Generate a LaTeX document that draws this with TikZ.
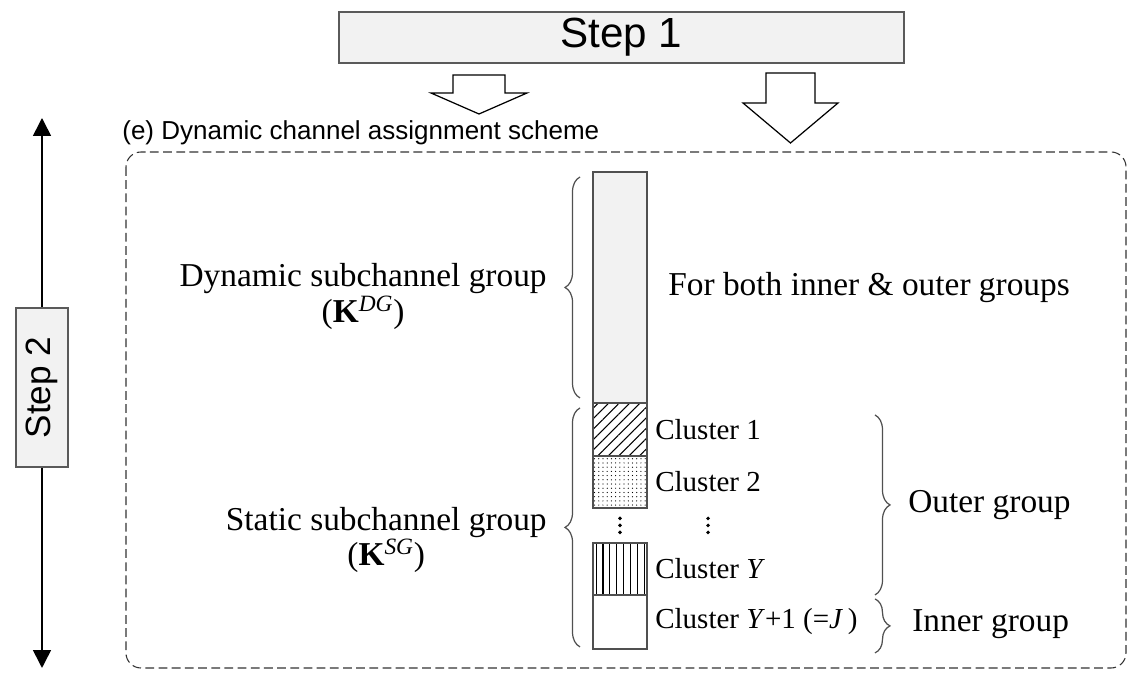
\documentclass[tikz,border=0pt]{standalone}
\usepackage{fontspec}
\setmainfont{Liberation Serif}
\newfontfamily\arialfont{Liberation Sans}
\usetikzlibrary{positioning, calc, patterns.meta, arrows.meta, decorations.pathreplacing}
\definecolor{stepfill}{RGB}{242, 242, 242}
\definecolor{stepline}{RGB}{90, 90, 90}
\definecolor{barline}{RGB}{80, 80, 80}
\definecolor{framegray}{RGB}{50, 50, 50}

\begin{document}
\begin{tikzpicture}[x=0.02cm, y=-0.02cm,
    stepbox/.style={fill=stepfill, draw=stepline, line width=0.9pt, inner sep=0pt},
    seg/.style={draw=barline, line width=0.8pt, minimum width=1.08cm, inner sep=0pt, outer sep=0pt, anchor=north},
    clabel/.style={font=\fontsize{16.5}{19}\selectfont, inner sep=0pt, anchor=west},
    glabel/.style={font=\fontsize{19}{19}\selectfont, inner sep=0pt, align=center},
    gbrace/.style={decorate, decoration={brace, amplitude=0.3cm}, draw=barline, line width=0.7pt},
    blockarrow/.style={draw=black, line width=0.7pt, fill=white},
    vdot/.style={circle, fill=black, inner sep=0pt, minimum size=2.2pt}]
    \useasboundingbox (0,0) rectangle (1134,678);

    % Steps
    \node[stepbox, minimum width=11.3cm, minimum height=1.02cm,
          font=\arialfont\fontsize{24}{28}\selectfont] (step1) at (621.5,37.5) {Step 1};
    \node[stepbox, rotate=90, minimum width=3.18cm, minimum height=1.04cm,
          font=\arialfont\fontsize{20}{24}\selectfont] (step2) at (42,387.5) {Step 2};
    \coordinate (s2top) at (42,118);
    \coordinate (s2bot) at (42,668);
    \draw[-{Triangle[width=0.36cm, length=0.36cm]}, line width=0.9pt] (step2.east) -- (s2top);
    \draw[-{Triangle[width=0.36cm, length=0.36cm]}, line width=0.9pt] (step2.west) -- (s2bot);

    % Block arrows
    \draw[blockarrow] (453,75) -- (505,75) -- (505,93) -- (527,93) -- (479,114) -- (431,93) -- (453,93) -- cycle;
    \draw[blockarrow] (766,73) -- (815,73) -- (815,103) -- (838,103) -- (790.5,143) -- (743,103) -- (766,103) -- cycle;

    % Frame
    \node[anchor=west, inner sep=0pt, font=\arialfont\fontsize{14.8}{17}\selectfont] (scheme) at (122,133) {(e) Dynamic channel assignment scheme};
    \draw[framegray, line width=0.6pt, dash pattern=on 5pt off 2.5pt, rounded corners=0.3cm] (126,152) rectangle (1126,668);

    % Subchannel bar
    \node[seg, fill=stepfill, minimum height=4.62cm] (dyn) at (620,172) {};
    \node[seg, pattern={Lines[angle=45, distance=4.2pt, line width=0.6pt]}, minimum height=1.06cm, below=0pt of dyn] (c1) {};
    \node[seg, pattern={Dots[distance=2.4pt, radius=0.35pt]}, minimum height=1.04cm, below=0pt of c1] (c2) {};
    \node[seg, pattern={Lines[angle=90, distance=3.9pt, line width=0.6pt]}, minimum height=1.04cm, below=0.7cm of c2] (cY) {};
    \node[seg, fill=white, minimum height=1.08cm, below=0pt of cY] (cY1) {};

    % Cluster labels
    \node[clabel, right=0.16cm of c1] (c1lbl) {Cluster 1};
    \node[clabel, right=0.16cm of c2] (c2lbl) {Cluster 2};
    \node[clabel, right=0.16cm of cY] (cYlbl) {Cluster \textit{Y}};
    \node[clabel, right=0.16cm of cY1] (cY1lbl) {Cluster \textit{Y}+1 (=\textit{J}\,)};
    \coordinate (vdotsa) at ($(c2.south)!0.5!(cY.north)$);
    \coordinate (vdotsb) at (vdotsa -| c2lbl);
    \foreach \p in {vdotsa, vdotsb} {
        \node[vdot] at ([yshift=0.14cm]\p) {};
        \node[vdot] at (\p) {};
        \node[vdot] at ([yshift=-0.14cm]\p) {};
    }
    \node[glabel, right=0.42cm of dyn] (bothlbl) {For both inner \& outer groups};

    % Left braces
    \draw[gbrace] ([xshift=-0.26cm, yshift=0.1cm]dyn.south west) -- ([xshift=-0.26cm, yshift=-0.1cm]dyn.north west);
    \draw[gbrace] ([xshift=-0.26cm, yshift=0.04cm]cY1.south west) -- ([xshift=-0.26cm, yshift=-0.1cm]c1.north west);
    \coordinate (dyntip) at ([xshift=-0.56cm]dyn.west);
    \coordinate (statip) at ($(c1.north west)!0.5!(cY1.south west)+(-28,0)$);
    \node[glabel, anchor=east] (dynlbl) at ($(dyntip)+(-18,9)$) {Dynamic subchannel group\\(\textbf{K}\textsuperscript{\textit{DG}})};
    \node[glabel, anchor=east] (stalbl) at ($(statip)+(-18,14)$) {Static subchannel group\\(\textbf{K}\textsuperscript{\textit{SG}})};

    % Right braces
    \draw[gbrace] ($(c1.north east)+(228,12)$) -- ($(cY.south east)+(228,0)$);
    \draw[gbrace] ($(cY1.north east)+(228,4)$) -- ($(cY1.south east)+(228,4)$);
    \node[glabel, anchor=west] (outerlbl) at ($(c1.north east)!0.5!(cY.south east)+(261,6)$) {Outer group};
    \node[glabel, anchor=west] (innerlbl) at ($(cY1.east)+(265,2)$) {Inner group};
\end{tikzpicture}
\end{document}
